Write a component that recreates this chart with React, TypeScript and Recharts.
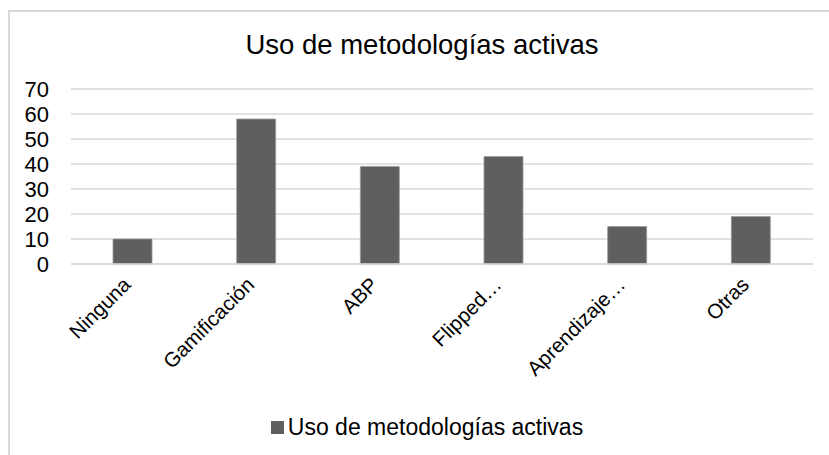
import { BarChart, Bar, XAxis, YAxis, CartesianGrid, Legend } from 'recharts'

const categories = ['Ninguna', 'Gamificación', 'ABP', 'Flipped…', 'Aprendizaje…', 'Otras']
const values = [10, 58, 39, 43, 15, 19]
const yTicks = [0, 10, 20, 30, 40, 50, 60, 70]
const seriesName = 'Uso de metodologías activas'

const chartData = categories.map((name, i) => ({ name, value: values[i] }))

const FONT = '"Liberation Sans", Arial, Helvetica, sans-serif'

function CategoryTick(props: any) {
  const { x, y, payload } = props
  // etiqueta girada 45°, termina junto al centro de la categoría
  return (
    <g transform={`translate(${x - 1},${y + 14})`}>
      <text
        x={0}
        y={0}
        textAnchor="end"
        transform="rotate(-45)"
        fontSize={20.5}
        fontFamily={FONT}
        fill="#000"
      >
        {payload.value}
      </text>
    </g>
  )
}

function LegendContent() {
  return (
    <div style={{ height: 26, display: 'flex', justifyContent: 'center', alignItems: 'center', fontFamily: FONT }}>
      <span style={{ width: 13, height: 13, background: '#5f5f5f', display: 'inline-block', marginRight: 4 }} />
      <span style={{ fontSize: 23, color: '#000', lineHeight: '26px' }}>{seriesName}</span>
    </div>
  )
}

export default function App() {
  return (
    <div style={{ position: 'absolute', left: 0, top: 0, width: 829, height: 455, background: '#fff', overflow: 'hidden' }}>
      {/* marco del gráfico */}
      <div
        style={{
          position: 'absolute',
          left: 8,
          top: 10,
          width: 840,
          height: 460,
          borderLeft: '2px solid #d9d9d9',
          borderTop: '2px solid #d9d9d9',
        }}
      />
      <div
        style={{
          position: 'absolute',
          left: 0,
          top: 29,
          width: 844,
          textAlign: 'center',
          fontFamily: FONT,
          fontSize: 27.5,
          color: '#000',
        }}
      >
        {seriesName}
      </div>
      <div style={{ position: 'absolute', left: 0, top: 0 }}>
        <BarChart
          width={829}
          height={455}
          data={chartData}
          margin={{ top: 89, right: 16, left: 0, bottom: 15 }}
        >
          <CartesianGrid vertical={false} stroke="#d9d9d9" strokeWidth={1.5} />
          <XAxis
            dataKey="name"
            tick={<CategoryTick />}
            tickLine={false}
            axisLine={{ stroke: '#d9d9d9', strokeWidth: 1.5 }}
            interval={0}
            height={150}
          />
          <YAxis
            domain={[0, 70]}
            ticks={yTicks}
            interval={0}
            width={71}
            tickLine={false}
            axisLine={false}
            tickSize={0}
            tickMargin={22}
            tick={{ fontSize: 22, fill: '#000', fontFamily: FONT }}
          />
          <Legend
            content={<LegendContent />}
            wrapperStyle={{ position: 'absolute', left: 0, width: 854, top: 414 }}
          />
          <Bar
            dataKey="value"
            name={seriesName}
            fill="#5f5f5f"
            stroke="#9a9a9a"
            strokeWidth={0.8}
            barSize={39}
            isAnimationActive={false}
          />
        </BarChart>
      </div>
    </div>
  )
}
